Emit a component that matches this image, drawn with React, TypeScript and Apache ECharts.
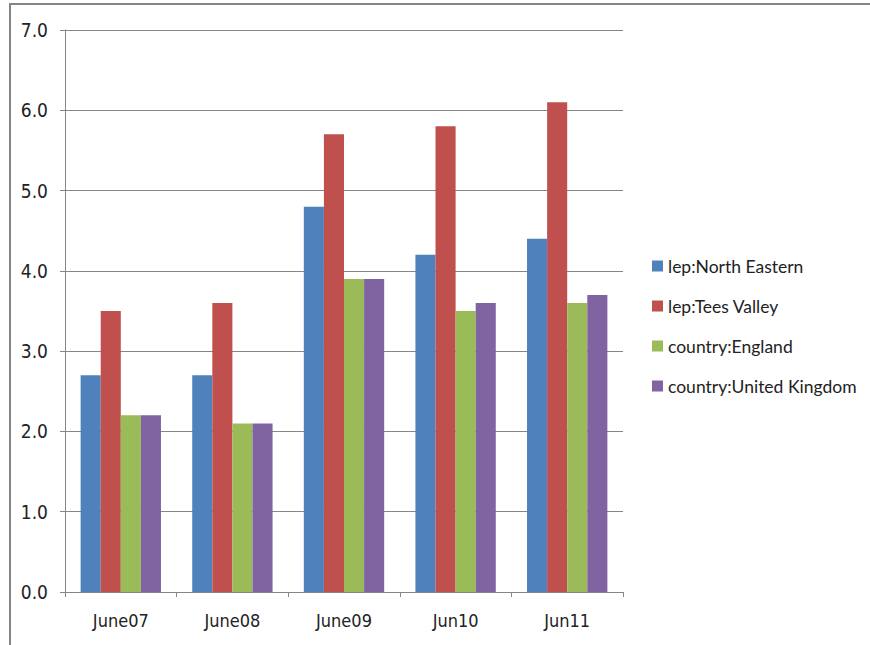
import React, { useEffect, useRef } from "react";
import * as echarts from "echarts";

const categories = ["June07", "June08", "June09", "Jun10", "Jun11"];
const northEastern = [2.7, 2.7, 4.8, 4.2, 4.4];
const teesValley = [3.5, 3.6, 5.7, 5.8, 6.1];
const england = [2.2, 2.1, 3.9, 3.5, 3.6];
const unitedKingdom = [2.2, 2.1, 3.9, 3.6, 3.7];
const seriesNames = [
  "lep:North Eastern",
  "lep:Tees Valley",
  "country:England",
  "country:United Kingdom",
];
const colors = ["#4F81BD", "#C0504D", "#9BBB59", "#8064A2"];

export default function App() {
  const ref = useRef<HTMLDivElement>(null);

  useEffect(() => {
    if (!ref.current) return;
    const chart = echarts.init(ref.current, null, { renderer: "svg" });
    const data = [northEastern, teesValley, england, unitedKingdom];
    chart.setOption({
      animation: false,
      backgroundColor: "#ffffff",
      color: colors,
      graphic: [
        {
          type: "rect",
          shape: { x: 10, y: 4, width: 900, height: 700 },
          style: { fill: "none", stroke: "#858585", lineWidth: 2 },
          silent: true,
        },
      ],
      grid: { left: 65, right: 247, top: 30, bottom: 53 },
      legend: {
        orient: "vertical",
        left: 652,
        top: 257,
        padding: 0,
        itemWidth: 11,
        itemHeight: 11,
        itemGap: 22,
        icon: "rect",
        textStyle: {
          fontFamily: "Lato",
          fontSize: 17.5,
          lineHeight: 18,
          color: "#222",
        },
        data: seriesNames,
      },
      xAxis: {
        type: "category",
        data: categories,
        axisLine: { lineStyle: { color: "#868686", width: 1 } },
        axisTick: { show: true, length: 5, lineStyle: { color: "#868686" } },
        axisLabel: {
          fontFamily: "Liberation Sans Narrow, DejaVu Sans Condensed",
          fontSize: 18,
          color: "#222",
          margin: 19,
        },
        splitLine: { show: false },
      },
      yAxis: {
        type: "value",
        min: 0,
        max: 7,
        interval: 1,
        axisLine: { show: true, lineStyle: { color: "#868686", width: 1 } },
        axisTick: { show: true, length: 5, lineStyle: { color: "#868686" } },
        axisLabel: {
          fontFamily: "DejaVu Sans Condensed",
          fontSize: 19,
          color: "#222",
          margin: 17,
          formatter: (v: number) => v.toFixed(1),
        },
        splitLine: { show: true, lineStyle: { color: "#868686", width: 1 } },
      },
      series: seriesNames.map((name, i) => ({
        name,
        type: "bar",
        data: data[i],
        barGap: "0%",
        barCategoryGap: "28%",
        itemStyle: { color: colors[i] },
      })),
    });
    return () => chart.dispose();
  }, []);

  return (
    <div
      ref={ref}
      style={{ position: "fixed", left: 0, top: 0, width: 870, height: 645 }}
    />
  );
}
